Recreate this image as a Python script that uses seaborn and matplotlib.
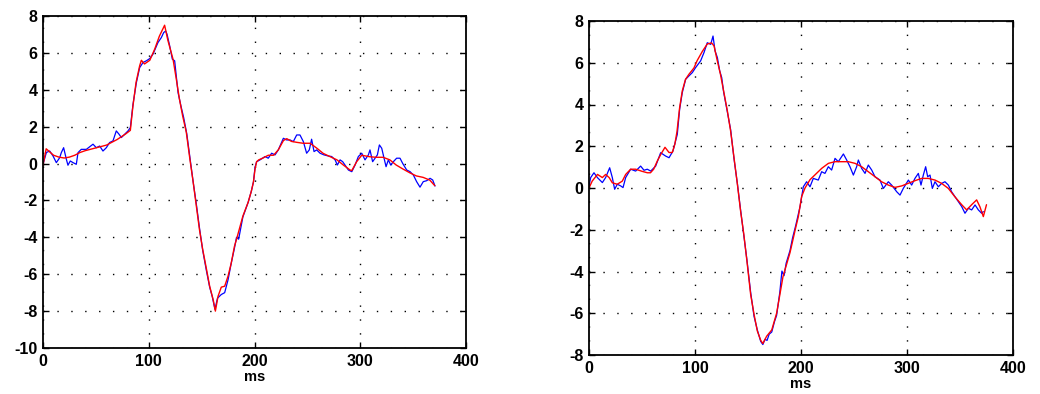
import matplotlib
matplotlib.use("Agg")
import matplotlib.pyplot as plt
import seaborn as sns
import pandas as pd

# ---------------- data ----------------
# Left panel: red (smoothed) trace
left_red_t = [0, 3, 5, 10, 15, 20, 25, 30, 35, 40, 50, 60, 70, 78, 82.6, 85, 88, 91.4, 93, 96,
              101, 105.6, 110, 115, 118, 123, 126, 129, 132, 135.5, 139, 142, 145, 148, 151,
              154.5, 157.6, 161, 163, 165.5, 168.6, 171.8, 175, 178, 181, 184, 189, 194, 197,
              199, 200.5, 202, 204, 208, 213, 218, 222.6, 227.4, 230.5, 235, 240, 246, 252.6,
              259, 265, 271.6, 278, 284, 290.4, 292, 296.6, 301.4, 309, 315, 321.6, 328, 334,
              340.5, 346.8, 353, 359.5, 365.8, 370.5]
left_red_v = [-0.1, 0.8, 0.7, 0.45, 0.35, 0.3, 0.35, 0.45, 0.6, 0.7, 0.85, 1.0, 1.3, 1.6, 1.8,
              3.1, 4.4, 5.3, 5.6, 5.4, 5.6, 6.2, 6.9, 7.5, 6.7, 5.65, 4.6, 3.5, 2.6, 1.7, 0.2,
              -1.0, -2.3, -3.6, -4.65, -5.7, -6.65, -7.4, -8.0, -7.2, -6.7, -6.65, -6.1, -5.4,
              -4.5, -3.9, -2.85, -2.1, -1.5, -1.0, -0.3, 0.1, 0.2, 0.3, 0.45, 0.45, 0.75, 1.25,
              1.35, 1.2, 1.15, 1.1, 1.1, 0.83, 0.55, 0.37, 0.2, -0.08, -0.35, -0.38, 0.1, 0.45,
              0.37, 0.34, 0.34, 0.2, -0.08, -0.3, -0.5, -0.67, -0.75, -0.9, -1.2]

# Left panel: blue (raw) trace
left_blue_t = [0, 3.2, 6.3, 9.5, 12.6, 15.8, 17.3, 19.5, 22.1, 23.6, 25.8, 28.4, 31.5, 33.1,
               36.2, 41, 47.3, 50.4, 53.6, 56.7, 59.9, 63, 66.2, 69.3, 71.9, 74.1, 77.2, 80.4,
               82.6, 85.1, 88.3, 91.4, 94.6, 97.7, 100.9, 104, 108.7, 111.9, 114.1, 116, 117.3,
               119.8, 122.3, 124.5, 125.5, 127.7, 130.8, 133, 136, 139, 142, 145, 148, 151,
               154.5, 157.6, 160, 162.6, 165, 168.6, 171.8, 175, 178, 181, 183, 185, 189, 194,
               197, 199, 200.5, 202, 205.2, 210, 213, 216.2, 219.4, 222.5, 227.3, 230.4, 233.6,
               236.7, 239.9, 243, 246.2, 249.3, 251.8, 254, 256.3, 258.8, 262, 265.7, 269.8,
               273, 276.2, 278.4, 280.9, 283.4, 285.6, 288.8, 292, 295.1, 298.2, 301.4, 304.5,
               307.7, 309.2, 311.7, 314, 316.2, 318.1, 320.3, 322.5, 324.4, 326.6, 328.8,
               331.3, 334.4, 337.6, 340.1, 343.9, 347.1, 350.2, 353.3, 356.5, 359.6, 362.8,
               366, 368.5, 370.7]
left_blue_v = [-0.04, 0.6, 0.68, 0.41, 0.05, 0.32, 0.59, 0.86, 0.23, -0.09, 0.14, 0.05, -0.04,
               0.59, 0.77, 0.77, 1.05, 0.86, 0.95, 0.68, 0.86, 1.14, 1.23, 1.77, 1.59, 1.41,
               1.59, 1.77, 1.95, 3.21, 4.39, 5.2, 5.48, 5.57, 5.69, 5.93, 6.56, 6.83, 7.1, 7.19,
               7.01, 6.38, 5.66, 5.57, 5.02, 3.85, 3.03, 2.5, 1.6, 0.3, -1.0, -2.2, -3.5, -4.7,
               -5.8, -6.7, -7.2, -7.9, -7.3, -7.1, -7.0, -6.3, -5.4, -4.6, -4.0, -4.1, -2.9,
               -2.1, -1.5, -1.0, -0.2, 0.1, 0.2, 0.38, 0.29, 0.56, 0.47, 0.74, 1.37, 1.28, 1.28,
               1.19, 1.55, 1.55, 1.19, 0.56, 0.74, 1.32, 0.65, 0.74, 0.56, 0.47, 0.41, 0.38,
               0.2, -0.08, 0.2, 0.1, -0.08, -0.35, -0.44, -0.08, 0.38, 0.56, 0.2, 0.47, 0.74,
               0.1, 0.29, 0.47, 1.01, 0.83, 0.29, -0.17, 0.2, -0.08, 0.1, 0.29, 0.29, 0.01,
               -0.35, -0.44, -0.62, -0.98, -1.28, -0.98, -0.93, -0.8, -0.89, -1.22]

# Right panel: red (smoothed) trace
right_red_t = [0, 3, 8, 12.6, 15.7, 19, 22, 26.7, 31.4, 34.6, 39.3, 44, 50, 55, 58, 61, 64.5,
               67.6, 71.7, 75.5, 78.6, 81, 83, 85.5, 88, 91, 94.3, 99, 102, 107, 111.6, 115.7,
               118, 121, 124, 127, 130.5, 133.6, 136.8, 140, 143, 146, 149, 152.5, 155.7,
               158.8, 162, 164, 167.6, 172.4, 177, 183, 189.6, 195, 197.5, 200.6, 203.8, 208.5,
               213, 219.5, 225.8, 232, 238.4, 244.7, 251, 257.2, 263.5, 269.8, 276, 282.4,
               288.7, 295, 301, 307.5, 313.8, 320, 326.4, 332.7, 339, 345, 351.6, 356.3, 361,
               365.7, 368.8, 372, 375]
right_red_v = [0, 0.33, 0.65, 0.5, 0.65, 0.5, 0.25, 0.18, 0.33, 0.65, 0.9, 0.9, 0.8, 0.73,
               0.73, 0.9, 1.3, 1.6, 1.95, 1.7, 1.7, 2.1, 2.7, 3.85, 4.65, 5.2, 5.45, 5.75, 6.1,
               6.55, 6.9, 6.95, 6.8, 6.1, 5.45, 4.65, 3.7, 2.73, 1.45, 0.18, -1.1, -2.2, -3.5,
               -5.1, -6.05, -6.85, -7.3, -7.45, -7.1, -6.8, -6.0, -4.25, -3.1, -1.9, -1.37,
               -0.41, 0, 0.4, 0.62, 0.94, 1.18, 1.26, 1.26, 1.26, 1.18, 1.02, 0.78, 0.54, 0.3,
               0.14, 0.03, 0.1, 0.22, 0.35, 0.46, 0.46, 0.38, 0.22, -0.02, -0.41, -0.8, -1.05,
               -0.8, -0.57, -0.9, -1.37, -0.8]

# Right panel: blue (raw) trace
right_blue_t = [0, 1.6, 4.7, 7.9, 12.6, 15.7, 19.5, 22, 24.2, 26.7, 29.9, 32.1, 34.6, 39.3, 44,
                48.7, 51.9, 55, 58.2, 62.9, 67.6, 72.3, 75.5, 79.2, 83.3, 85.5, 88, 91.2, 94.3,
                97.5, 100.6, 105.3, 108.5, 111.6, 114.8, 117, 118.9, 121.1, 123.3, 125.2, 127,
                130.5, 133.6, 136.8, 140, 143, 146, 149, 152.5, 155.7, 158.8, 162, 164, 166,
                168, 170, 172.4, 175, 177, 180, 182, 184, 186, 189.6, 192, 195, 199.1, 202.2,
                205.3, 208.5, 211.6, 216.3, 219.5, 222.6, 225.8, 228.9, 232.1, 235.2, 240,
                243.1, 246.2, 249.4, 252.5, 254.1, 257.2, 260.4, 263.5, 266.7, 269.8, 274.5,
                277.7, 282.4, 285.5, 290.3, 293.4, 296.5, 301.3, 304.4, 307.5, 310.7, 313.2,
                315.4, 317.6, 319.5, 321.7, 323.9, 326.4, 329.6, 332.7, 335.8, 339, 342.1,
                345.3, 348.4, 351.6, 354.7, 357.9, 361, 364.2, 367.3, 370.4, 372]
right_blue_v = [0.1, 0.5, 0.73, 0.5, 0.26, 0.5, 0.97, 0.5, -0.06, 0.18, 0.1, 0.02, 0.5, 0.9,
                0.81, 1.05, 0.85, 0.9, 0.81, 1.05, 1.69, 1.53, 1.45, 1.77, 2.57, 3.77, 4.57,
                5.21, 5.37, 5.53, 5.77, 6.09, 6.49, 6.96, 6.88, 7.28, 6.57, 6.25, 5.61, 5.29,
                4.6, 3.65, 2.8, 1.4, 0.2, -1.05, -2.25, -3.45, -5.0, -6.15, -6.8, -7.35, -7.5,
                -7.25, -7.3, -7.0, -6.9, -6.4, -6.1, -5.0, -3.98, -4.2, -3.6, -3.0, -2.4, -1.8,
                -0.89, 0.06, 0.3, 0.06, 0.46, 0.38, 0.78, 0.7, 1.02, 0.86, 1.42, 1.26, 1.63,
                1.34, 1.02, 0.62, 1.02, 1.34, 0.94, 0.7, 1.1, 0.86, 0.54, 0.38, -0.02, 0.3,
                0.14, -0.18, -0.34, -0.02, 0.38, 0.14, 0.46, 0.7, 0.14, 0.62, 1.02, 0.54, 0.62,
                -0.02, 0.3, 0.06, 0.22, 0.3, 0.14, -0.18, -0.42, -0.65, -0.89, -1.21, -0.97,
                -1.05, -0.81, -1.05, -1.21, -1.13]

x_ticks = [0, 100, 200, 300, 400]
left_y_ticks = [-10, -8, -6, -4, -2, 0, 2, 4, 6, 8]
right_y_ticks = [-8, -6, -4, -2, 0, 2, 4, 6, 8]
x_label = "ms"

# ---------------- style ----------------
sns.set_style("white")
plt.rcParams["font.family"] = ["Liberation Sans", "DejaVu Sans"]
plt.rcParams["font.weight"] = "bold"
plt.rcParams["text.color"] = "black"
plt.rcParams["axes.labelcolor"] = "black"
plt.rcParams["xtick.color"] = "black"
plt.rcParams["ytick.color"] = "black"

W, H = 1040, 394
fig = plt.figure(figsize=(W / 100, H / 100), dpi=100)
ax_l = fig.add_axes([43 / W, (H - 348) / H, 423 / W, 332 / H])
ax_r = fig.add_axes([589 / W, (H - 355) / H, 424 / W, 334 / H])

panels = [
    (ax_l, left_blue_t, left_blue_v, left_red_t, left_red_v, (-10, 8), left_y_ticks),
    (ax_r, right_blue_t, right_blue_v, right_red_t, right_red_v, (-8, 8), right_y_ticks),
]

for ax, bt, bv, rt, rv, ylim, yticks in panels:
    dfb = pd.DataFrame({"t": bt, "v": bv})
    dfr = pd.DataFrame({"t": rt, "v": rv})
    sns.lineplot(data=dfb, x="t", y="v", color="#0000ff", linewidth=0.9,
                 estimator=None, ax=ax)
    sns.lineplot(data=dfr, x="t", y="v", color="#ff0000", linewidth=1.0,
                 estimator=None, ax=ax)
    ax.set_xlim(0, 400)
    ax.set_ylim(*ylim)
    ax.set_xticks(x_ticks)
    ax.set_yticks(yticks)
    ax.set_xticklabels([str(v) for v in x_ticks], fontsize=11.5, fontweight="bold",
                       color="black")
    ax.set_yticklabels([str(v) for v in yticks], fontsize=11.5, fontweight="bold",
                       color="black")
    ax.set_xlabel(x_label, fontsize=10.5, fontweight="bold", labelpad=1, color="black")
    ax.set_ylabel("")
    ax.grid(True, color="black", linestyle=(0, (1, 9)), linewidth=1.0)
    ax.set_axisbelow(True)
    for s in ax.spines.values():
        s.set_visible(True)
        s.set_color("black")
        s.set_linewidth(1.3)
    ax.tick_params(direction="in", length=4, width=1, top=True, right=True,
                   bottom=True, left=True, pad=4, colors="black")

fig.savefig("out.png", dpi=100, facecolor="white")
